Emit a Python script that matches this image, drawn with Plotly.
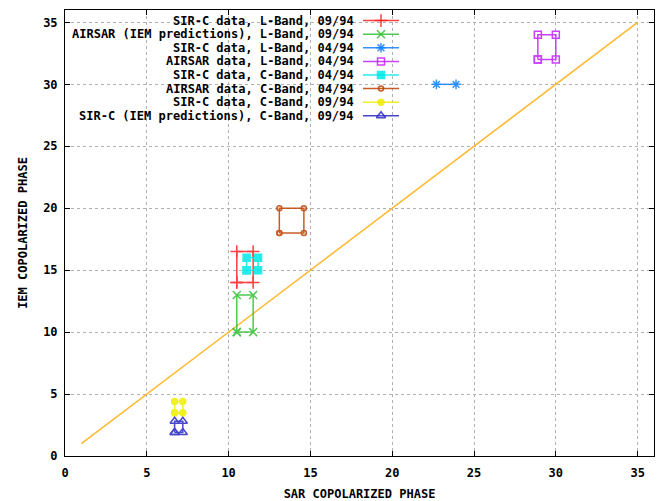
import plotly.graph_objects as go

# ---- data ----
names = [
    "SIR-C data, L-Band, 09/94",
    "AIRSAR (IEM predictions), L-Band, 09/94",
    "SIR-C data, L-Band, 04/94",
    "AIRSAR data, L-Band, 04/94",
    "SIR-C data, C-Band, 04/94",
    "AIRSAR data, C-Band, 04/94",
    "SIR-C data, C-Band, 09/94",
    "SIR-C (IEM predictions), C-Band, 09/94",
]
sirc_L_0994_x = [10.5, 10.5, 11.5, 11.5, 10.5]
sirc_L_0994_y = [14.0, 16.5, 16.5, 14.0, 14.0]
airsar_iem_L_0994_x = [10.5, 10.5, 11.5, 11.5, 10.5]
airsar_iem_L_0994_y = [10.0, 13.0, 13.0, 10.0, 10.0]
sirc_L_0494_x = [22.7, 23.9]
sirc_L_0494_y = [30.0, 30.0]
airsar_L_0494_x = [28.9, 28.9, 30.0, 30.0, 28.9]
airsar_L_0494_y = [32.0, 34.0, 34.0, 32.0, 32.0]
sirc_C_0494_x = [11.1, 11.1, 11.8, 11.8, 11.1]
sirc_C_0494_y = [15.0, 16.0, 16.0, 15.0, 15.0]
airsar_C_0494_x = [13.1, 13.1, 14.6, 14.6, 13.1]
airsar_C_0494_y = [18.0, 20.0, 20.0, 18.0, 18.0]
sirc_C_0994_x = [6.7, 6.7, 7.2, 7.2, 6.7]
sirc_C_0994_y = [3.5, 4.4, 4.4, 3.5, 3.5]
sirc_iem_C_0994_x = [6.7, 6.7, 7.2, 7.2, 6.7]
sirc_iem_C_0994_y = [1.9, 2.8, 2.8, 1.9, 1.9]
diag_x = [1, 35]
diag_y = [1, 35]
tick_vals = [0, 5, 10, 15, 20, 25, 30, 35]

series_x = [sirc_L_0994_x, airsar_iem_L_0994_x, sirc_L_0494_x, airsar_L_0494_x,
            sirc_C_0494_x, airsar_C_0494_x, sirc_C_0994_x, sirc_iem_C_0994_x]
series_y = [sirc_L_0994_y, airsar_iem_L_0994_y, sirc_L_0494_y, airsar_L_0494_y,
            sirc_C_0494_y, airsar_C_0494_y, sirc_C_0994_y, sirc_iem_C_0994_y]

colors = ["#ff2020", "#30c030", "#1080ff", "#c020ff", "#00e8e8", "#c04000", "#eeee00", "#2828c0"]
symbols = ["cross-thin", "x-thin", "asterisk", "square-open", "square", "circle-open", "circle", "triangle-up-open"]
sizes = [9, 8, 8, 7, 7, 5, 6, 8]

FONT = "DejaVu Sans Mono"
W, H = 661, 501
ML, MR, MT, MB = 65, 7, 10, 45
PW, PH = W - ML - MR, H - MT - MB

fig = go.Figure()
fig.add_trace(go.Scatter(x=diag_x, y=diag_y, mode="lines",
                         line=dict(color="#ffb830", width=1.5), showlegend=False))
for i in range(len(names)):
    fig.add_trace(go.Scatter(
        x=series_x[i], y=series_y[i], mode="lines+markers", name=names[i],
        line=dict(color=colors[i], width=1.5),
        marker=dict(symbol=symbols[i], size=sizes[i], color=colors[i],
                    line=dict(color=colors[i], width=1.5)),
        showlegend=False, opacity=0.85))

# gnuplot-style key: right-aligned text, sample on the right
def px2x(px):
    return (px - ML) / PW

def py2y(py):
    return (H - MB - py) / PH

annotations = []
for i, nm in enumerate(names):
    py = 20.6 + 13.6 * i
    yy = py2y(py)
    annotations.append(dict(x=px2x(356), y=yy, xref="paper", yref="paper", text=nm,
                            showarrow=False, xanchor="right", yanchor="middle",
                            font=dict(family=FONT, size=12, color="black", weight="bold")))
    fig.add_trace(go.Scatter(x=[px2x(363), px2x(381), px2x(399)], y=[yy, yy, yy],
                             xaxis="x2", yaxis="y2", mode="lines",
                             line=dict(color=colors[i], width=1.5), showlegend=False,
                             hoverinfo="skip", opacity=0.85))
    fig.add_trace(go.Scatter(x=[px2x(381)], y=[yy], xaxis="x2", yaxis="y2", mode="markers",
                             marker=dict(symbol=symbols[i], size=sizes[i], color=colors[i],
                                         line=dict(color=colors[i], width=1.5)),
                             showlegend=False, hoverinfo="skip", opacity=0.85))

axis_common = dict(
    showline=True, linecolor="black", linewidth=1, mirror="ticks",
    ticks="inside", ticklen=5, tickcolor="black",
    showgrid=True, gridcolor="#b0b0b0", griddash="dot", gridwidth=1,
    zeroline=False, tickvals=tick_vals, automargin=False,
    tickfont=dict(family=FONT, size=12, color="black", weight="bold"),
)
fig.update_layout(
    width=W, height=H,
    margin=dict(l=ML, r=MR, t=MT, b=MB),
    plot_bgcolor="white", paper_bgcolor="white",
    xaxis=dict(range=[0, 36], ticklabelstandoff=6,
               title=dict(text="SAR COPOLARIZED PHASE",
               font=dict(family=FONT, size=12, color="black", weight="bold"), standoff=10),
               **axis_common),
    yaxis=dict(range=[0, 36], ticklabelstandoff=4,
               title=dict(text="IEM COPOLARIZED PHASE",
               font=dict(family=FONT, size=12, color="black", weight="bold"), standoff=12),
               **axis_common),
    xaxis2=dict(overlaying="x", range=[0, 1], visible=False, domain=[0, 1]),
    yaxis2=dict(overlaying="y", range=[0, 1], visible=False, domain=[0, 1]),
    annotations=annotations,
    showlegend=False,
)
fig.write_html("out.html")
